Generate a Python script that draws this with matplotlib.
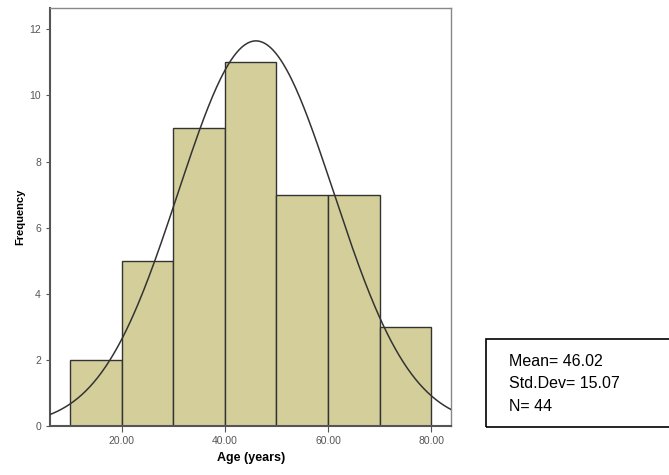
import numpy as np
import matplotlib.pyplot as plt

plt.rcParams['font.family'] = ['Liberation Sans', 'DejaVu Sans']

# histogram of age
bin_edges = [10, 20, 30, 40, 50, 60, 70, 80]
counts = [2, 5, 9, 11, 7, 7, 3]
mean_age = 46.02
sd_age = 15.07
n_obs = 44
x_ticks = [20, 40, 60, 80]
y_ticks = [0, 2, 4, 6, 8, 10, 12]

fig = plt.figure(figsize=(6.69, 4.75), dpi=100)
ax = fig.add_axes([0.0747, 0.103, 0.6, 0.88])

lefts = bin_edges[:-1]
widths = np.diff(bin_edges)
ax.bar(lefts, counts, width=widths, align='edge', color='#d4cf9a',
       edgecolor='#333333', linewidth=1.0, zorder=2)

# normal curve scaled to counts
xs = np.linspace(6, 84, 300)
bw = widths[0]
ys = n_obs * bw / (sd_age * np.sqrt(2 * np.pi)) * np.exp(-0.5 * ((xs - mean_age) / sd_age) ** 2)
ax.plot(xs, ys, color='#333333', linewidth=1.1, zorder=3)

ax.set_xlim(6.1, 83.9)
ax.set_ylim(0, 12.64)
ax.set_xticks(x_ticks)
ax.set_xticklabels(['%.2f' % t for t in x_ticks])
ax.set_yticks(y_ticks)
ax.tick_params(axis='both', labelsize=7.5, colors='#555555', length=3, width=0.8)
ax.tick_params(axis='x', length=4)

for side in ['left', 'bottom']:
    ax.spines[side].set_color('#555555')
    ax.spines[side].set_linewidth(1.5)
for side in ['top', 'right']:
    ax.spines[side].set_color('#888888')
    ax.spines[side].set_linewidth(1.0)

ax.set_xlabel('Age (years)', fontsize=9, fontweight='bold', labelpad=4)
ax.set_ylabel('Frequency', fontsize=8, fontweight='bold', labelpad=3)

fig.text(0.761, 0.128, 'Mean= %.2f\nStd.Dev= %.2f\nN= %d' % (mean_age, sd_age, n_obs),
         fontsize=11.5, linespacing=1.65, va='bottom', ha='left')
fig.patches.append(plt.Rectangle((0.727, 0.101), 0.28, 0.185, transform=fig.transFigure,
                                 fill=False, edgecolor='black', linewidth=1.2))

fig.savefig('out.png', dpi=100)
